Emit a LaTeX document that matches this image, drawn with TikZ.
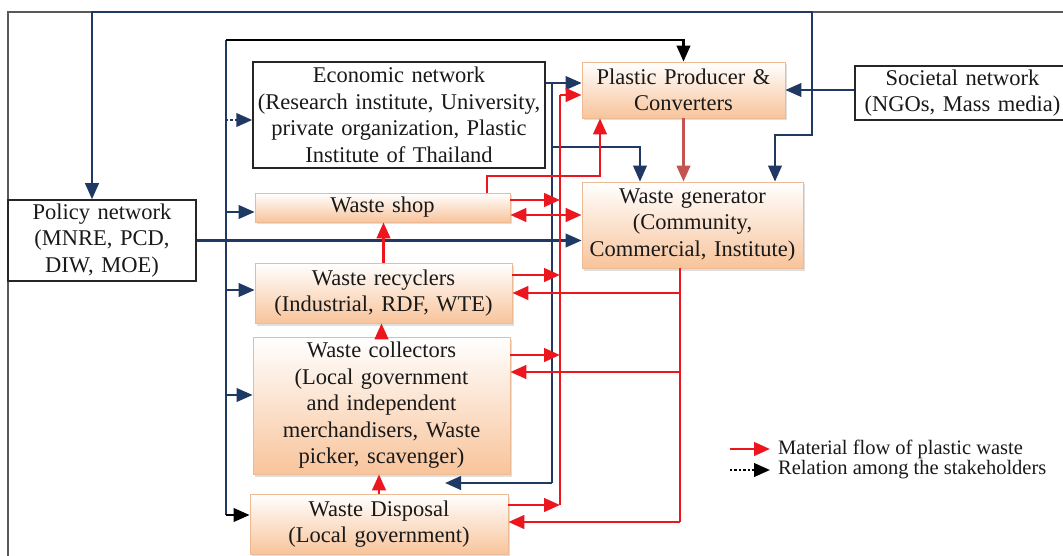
\documentclass[tikz,border=0pt]{standalone}
\usepackage{fontspec}
\setmainfont{Liberation Serif}
\usetikzlibrary{arrows.meta,shadows}
\definecolor{navy}{RGB}{31,56,100}
\definecolor{flowred}{RGB}{236,22,30}
\definecolor{mutedred}{RGB}{196,84,80}
\definecolor{peach}{RGB}{248,196,155}
\definecolor{peachedge}{RGB}{236,186,148}
\definecolor{txt}{RGB}{25,25,25}
\begin{document}
\begin{tikzpicture}[x=1pt,y=-1pt,
  font=\fontsize{22.5}{26.5}\selectfont,
  tip/.tip={Triangle[length=16pt,width=13.5pt]},
  wbox/.style={draw=black!85, line width=1.5pt, fill=white, inner sep=0pt, align=center, text=txt},
  obox/.style={draw=peachedge, line width=0.8pt, top color=white, bottom color=peach, inner sep=0pt, align=center, text=txt,
    drop shadow={shadow xshift=2pt, shadow yshift=-2.5pt, opacity=0.25}},
  rline/.style={draw=flowred, line width=2.8pt},
  rarr/.style={rline, -tip},
  bline/.style={draw=navy, line width=2.4pt},
  barr/.style={bline, -tip},
  karr/.style={draw=black, line width=2.4pt, -tip},
  bdot/.style={draw=navy, line width=2.4pt, dotted, -tip},
  kdot/.style={draw=black, line width=2.4pt, dotted, -tip},
  legtext/.style={anchor=west, inner sep=0pt, text=txt, font=\fontsize{20.5}{24}\selectfont}
]
\useasboundingbox (0,0) rectangle (1063,556);
\clip (0,0) rectangle (1063,556);
\fill[white] (0,0) rectangle (1063,556);
% frame
\draw[draw=black!65, line width=1.6pt] (8,12) rectangle (1080,575);

% nodes
\node[wbox, minimum width=188pt, minimum height=81pt, text width=188pt] (policy) at (102,240.5) {Policy network\\(MNRE, PCD,\\DIW, MOE)};
\node[wbox, minimum width=292pt, minimum height=106pt, text width=292pt] (econ) at (399,115) {Economic network\\(Research institute, University,\\private organization, Plastic\\Institute of Thailand};
\node[obox, minimum width=203pt, minimum height=56pt, text width=203pt] (prod) at (683.5,90) {Plastic Producer \&\\Converters};
\node[wbox, minimum width=215pt, minimum height=54pt, text width=215pt] (soc) at (962.5,93) {Societal network\\(NGOs, Mass media)};
\node[obox, minimum width=221pt, minimum height=86pt, text width=221pt] (gen) at (692.5,225) {Waste generator\\(Community,\\Commercial, Institute)};
\node[obox, minimum width=255pt, minimum height=29pt, text width=255pt] (shop) at (382.5,207.5) {Waste shop};
\node[obox, minimum width=257pt, minimum height=60pt, text width=257pt] (recy) at (383.5,293) {Waste recyclers\\(Industrial, RDF, WTE)};
\node[obox, minimum width=257pt, minimum height=137pt, text width=257pt] (coll) at (381.5,405.5) {Waste collectors\\(Local government\\and independent\\merchandisers, Waste\\picker, scavenger)};
\node[obox, minimum width=258pt, minimum height=60pt, text width=258pt] (disp) at (379,524) {Waste Disposal\\(Local government)};

% ---- coordinates
\coordinate (pb) at (226,40);
\coordinate (pbEnd) at (226,515);
\coordinate (pEcon) at (226,120);
\coordinate (pShop) at (226,212);
\coordinate (pRecy) at (226,290);
\coordinate (pColl) at (226,395);

\coordinate (rbTop) at (560,95);
\coordinate (rbShop) at (560,200);
\coordinate (rbRecy) at (560,275);
\coordinate (rbColl) at (560,355);
\coordinate (rbDisp) at (560,505);

\coordinate (gbRecy) at (680,293);
\coordinate (gbColl) at (680,372);
\coordinate (gbDisp) at (680,522);

\coordinate (sg) at (570,215);
\coordinate (sp1) at (487,176);
\coordinate (sp2) at (600,176);

\coordinate (e1) at (552,83);
\coordinate (e2) at (552,147);
\coordinate (e3) at (552,483);
\coordinate (e4) at (640,147);
\coordinate (eColl) at (445,483);

\coordinate (sj) at (812,90);
\coordinate (sTop) at (812,12);
\coordinate (sTopL) at (92,12);
\coordinate (sLow) at (812,135);
\coordinate (sLowL) at (775,135);

% ---- blue / black relations (left bus)
\draw[bline] (pb) -- (pbEnd);
\draw[karr] (pb) -- (prod.north |- pb) -- (prod.north);
\draw[karr] (pbEnd) -- (disp.west |- pbEnd);
\draw[bdot] (pEcon) -- (econ.west |- pEcon);
\draw[barr] (pShop) -- (shop.west |- pShop);
\draw[barr] (pRecy) -- (recy.west |- pRecy);
\draw[barr] (pColl) -- (coll.west |- pColl);

% policy -> generator
\draw[barr] (policy.east) -- (gen.west |- policy.east);

% economic network relations
\draw[barr] (econ.east |- e1) -- (prod.west |- e1);
\draw[bline] (e1) -- (e3);
\draw[barr] (e2) -- (e4) -- (gen.north -| e4);
\draw[barr] (e3) -- (eColl);

% societal network relations
\draw[barr] (soc.west |- sj) -- (prod.east |- sj);
\draw[barr] (sj) -- (sTop) -- (sTopL) -- (policy.north -| sTopL);
\draw[barr] (sj) -- (sLow) -- (sLowL) -- (gen.north -| sLowL);

% ---- red material flows
\draw[rline] (rbDisp) -- (rbTop);
\draw[rarr] (rbTop) -- (prod.west |- rbTop);
\draw[rarr] (shop.east |- rbShop) -- (rbShop);
\draw[rarr] (recy.east |- rbRecy) -- (rbRecy);
\draw[rarr] (coll.east |- rbColl) -- (rbColl);
\draw[rarr] (disp.east |- rbDisp) -- (rbDisp);

\draw[rline] (gbDisp |- gen.south) -- (gbDisp);
\draw[rarr] (gbRecy) -- (recy.east |- gbRecy);
\draw[rarr] (gbColl) -- (coll.east |- gbColl);
\draw[rarr] (gbDisp) -- (disp.east |- gbDisp);

\draw[rline, tip-tip] (shop.east |- sg) -- (gen.west |- sg);
\draw[rarr] (shop.north -| sp1) -- (sp1) -- (sp2) -- (prod.south -| sp2);
\draw[rarr, draw=mutedred] (prod.south) -- (prod.south |- gen.north);

\draw[rarr] (recy.north) -- (recy.north |- shop.south);
\draw[rarr] (coll.north) -- (coll.north |- recy.south);
\draw[rarr] (disp.north) -- (disp.north |- coll.south);

% ---- legend
\node[legtext] (lt1) at (778,449) {Material flow of plastic waste};
\node[legtext] (lt2) at (778,470) {Relation among the stakeholders};
\coordinate (lg1) at (730,449);
\coordinate (lg2) at (730,470);
\draw[rarr] (lg1) -- ([xshift=-8pt]lt1.west);
\draw[kdot] (lg2) -- ([xshift=-8pt]lt2.west);
\end{tikzpicture}
\end{document}
